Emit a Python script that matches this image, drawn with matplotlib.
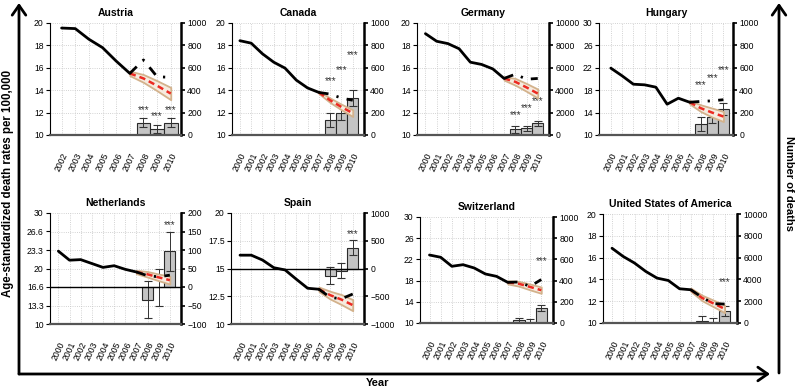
import numpy as np
import matplotlib
matplotlib.use('Agg')
import matplotlib.pyplot as plt
from matplotlib.patches import FancyArrowPatch

plt.rcParams['font.family'] = ['Liberation Sans', 'DejaVu Sans']

# ---------------- data ----------------
countries = ['Austria', 'Canada', 'Germany', 'Hungary',
             'Netherlands', 'Spain', 'Switzerland', 'United States of America']

years_austria = [2002, 2003, 2004, 2005, 2006, 2007, 2008, 2009, 2010]
years_other = [2000, 2001, 2002, 2003, 2004, 2005, 2006, 2007, 2008, 2009, 2010]
pred_years = [2007, 2008, 2009, 2010]
bar_years = [2008, 2009, 2010]

# observed age-standardized death rates
austria_rate = [19.55, 19.5, 18.55, 17.8, 16.6, 15.5, 16.7, 15.2, 15.15]
canada_rate = [18.42, 18.2, 17.25, 16.5, 15.97, 14.9, 14.2, 13.8, 13.65, 13.3, 13.1]
germany_rate = [19.05, 18.37, 18.16, 17.7, 16.5, 16.3, 15.9, 15.05, 15.43, 14.98, 15.05]
hungary_rate = [21.94, 20.57, 19.07, 18.96, 18.54, 15.5, 16.57, 15.85, 16.0, 16.1, 16.3]
netherlands_rate = [23.13, 21.5, 21.6, 20.9, 20.2, 20.5, 19.85, 19.37, 18.7, 18.5, 18.8]
spain_rate = [16.2, 16.2, 15.76, 15.07, 14.87, 14.03, 13.22, 13.13, 12.4, 12.27, 12.7]
switzerland_rate = [22.83, 22.4, 20.7, 21.0, 20.38, 19.25, 18.8, 17.67, 17.74, 16.9, 18.2]
usa_rate = [16.86, 16.1, 15.5, 14.73, 14.12, 13.9, 13.14, 13.05, 12.35, 11.77, 11.74]

# predicted rates (trend) 2007-2010 and half-width of the prediction band
austria_pred = [15.5, 15.05, 14.4, 13.7]
canada_pred = [13.8, 13.1, 12.5, 11.95]
germany_pred = [15.05, 14.75, 14.25, 13.7]
hungary_pred = [15.85, 14.78, 14.0, 13.3]
netherlands_pred = [19.37, 18.95, 18.4, 17.9]
spain_pred = [13.13, 12.6, 12.2, 11.7]
switzerland_pred = [17.67, 17.4, 16.8, 16.2]
usa_pred = [13.05, 12.3, 11.8, 11.3]

austria_band = [0.2, 0.35, 0.45, 0.55]
canada_band = [0.1, 0.2, 0.25, 0.3]
germany_band = [0.15, 0.3, 0.35, 0.4]
hungary_band = [0.3, 0.6, 0.8, 0.9]
netherlands_band = [0.3, 0.5, 0.6, 0.7]
spain_band = [0.2, 0.35, 0.45, 0.5]
switzerland_band = [0.3, 0.45, 0.55, 0.6]
usa_band = [0.15, 0.25, 0.3, 0.35]

# excess deaths 2008-2010 with error
austria_excess = [110, 55, 110]
canada_excess = [135, 195, 330]
germany_excess = [500, 590, 1040]
hungary_excess = [100, 165, 233]
netherlands_excess = [-35, 0, 97]
spain_excess = [-130, -42, 376]
switzerland_excess = [25, 8, 140]
usa_excess = [150, 100, 1130]

austria_err = [40, 35, 38]
canada_err = [60, 60, 70]
germany_err = [300, 250, 220]
hungary_err = [60, 60, 52]
netherlands_err = [50, 50, 53]
spain_err = [150, 135, 135]
switzerland_err = [22, 28, 27]
usa_err = [450, 350, 450]

# significance stars: (year, position on the deaths axis)
austria_stars = [(2008, 224), (2009, 173), (2010, 224)]
canada_stars = [(2008, 478), (2009, 576), (2010, 716)]
germany_stars = [(2008, 1780), (2009, 2370), (2010, 3060)]
hungary_stars = [(2008, 448), (2009, 507), (2010, 576)]
netherlands_stars = [(2010, 167)]
spain_stars = [(2010, 627)]
switzerland_stars = [(2010, 580)]
usa_stars = [(2010, 3800)]

# axis ticks
austria_lticks = [10, 12, 14, 16, 18, 20]
canada_lticks = [10, 12, 14, 16, 18, 20]
germany_lticks = [10, 12, 14, 16, 18, 20]
hungary_lticks = [10, 14, 18, 22, 26, 30]
netherlands_lticks = [10, 13.333, 16.667, 20, 23.333, 26.667, 30]
netherlands_llabels = ['10', '13.3', '16.6', '20', '23.3', '26.6', '30']
spain_lticks = [10, 12.5, 15, 17.5, 20]
spain_llabels = ['10', '12.5', '15', '17.5', '20']
switzerland_lticks = [10, 14, 18, 22, 26, 30]
usa_lticks = [10, 12, 14, 16, 18, 20]

austria_rticks = [0, 200, 400, 600, 800, 1000]
canada_rticks = [0, 200, 400, 600, 800, 1000]
germany_rticks = [0, 2000, 4000, 6000, 8000, 10000]
hungary_rticks = [0, 200, 400, 600, 800, 1000]
netherlands_rticks = [-100, -50, 0, 50, 100, 150, 200]
spain_rticks = [-1000, -500, 0, 500, 1000]
switzerland_rticks = [0, 200, 400, 600, 800, 1000]
usa_rticks = [0, 2000, 4000, 6000, 8000, 10000]

panels = [
    dict(name='Austria', years=years_austria, rate=austria_rate, pred=austria_pred, band=austria_band,
         excess=austria_excess, err=austria_err, stars=austria_stars,
         lticks=austria_lticks, llabels=None, rticks=austria_rticks,
         rect=(50, 23, 181, 135), xlim=(2001.15, 2010.75)),
    dict(name='Canada', years=years_other, rate=canada_rate, pred=canada_pred, band=canada_band,
         excess=canada_excess, err=canada_err, stars=canada_stars,
         lticks=canada_lticks, llabels=None, rticks=canada_rticks,
         rect=(232, 23, 364, 135), xlim=(1999.3, 2011.0)),
    dict(name='Germany', years=years_other, rate=germany_rate, pred=germany_pred, band=germany_band,
         excess=germany_excess, err=germany_err, stars=germany_stars,
         lticks=germany_lticks, llabels=None, rticks=germany_rticks,
         rect=(417, 23, 549, 135), xlim=(1999.25, 2011.0)),
    dict(name='Hungary', years=years_other, rate=hungary_rate, pred=hungary_pred, band=hungary_band,
         excess=hungary_excess, err=hungary_err, stars=hungary_stars,
         lticks=hungary_lticks, llabels=None, rticks=hungary_rticks,
         rect=(599, 23, 733, 135), xlim=(1998.95, 2010.85)),
    dict(name='Netherlands', years=years_other, rate=netherlands_rate, pred=netherlands_pred,
         band=netherlands_band, excess=netherlands_excess, err=netherlands_err, stars=netherlands_stars,
         lticks=netherlands_lticks, llabels=netherlands_llabels, rticks=netherlands_rticks,
         rect=(50, 213, 181, 324), xlim=(1999.25, 2011.0), zero=True),
    dict(name='Spain', years=years_other, rate=spain_rate, pred=spain_pred, band=spain_band,
         excess=spain_excess, err=spain_err, stars=spain_stars,
         lticks=spain_lticks, llabels=spain_llabels, rticks=spain_rticks,
         rect=(231, 213, 364, 324), xlim=(1999.2, 2011.0), zero=True),
    dict(name='Switzerland', years=years_other, rate=switzerland_rate, pred=switzerland_pred,
         band=switzerland_band, excess=switzerland_excess, err=switzerland_err, stars=switzerland_stars,
         lticks=switzerland_lticks, llabels=None, rticks=switzerland_rticks,
         rect=(420, 217, 553, 323), xlim=(1999.15, 2011.05)),
    dict(name='United States of America', years=years_other, rate=usa_rate, pred=usa_pred, band=usa_band,
         excess=usa_excess, err=usa_err, stars=usa_stars,
         lticks=usa_lticks, llabels=None, rticks=usa_rticks,
         rect=(603, 214, 737, 323), xlim=(1999.2, 2011.1)),
]

W, H = 795, 390
fig = plt.figure(figsize=(W / 100, H / 100), dpi=100)

FS = 6.2
for p in panels:
    x0, y0, x1, y1 = p['rect']
    rect = [x0 / W, 1 - y1 / H, (x1 - x0) / W, (y1 - y0) / H]
    ax = fig.add_axes(rect)
    tw = ax.twinx()
    ax.set_zorder(tw.get_zorder() + 1)
    ax.patch.set_visible(False)
    tw.patch.set_visible(True)
    tw.patch.set_facecolor('white')

    yrs = p['years']
    rate = p['rate']
    i7 = yrs.index(2007)

    ax.set_xlim(*p['xlim'])
    lt = p['lticks']
    ax.set_ylim(lt[0], lt[-1])
    ax.set_yticks(lt)
    if p['llabels'] is not None:
        ax.set_yticklabels(p['llabels'])
    rt = p['rticks']
    tw.set_ylim(rt[0], rt[-1])
    tw.set_yticks(rt)
    tw.set_yticklabels([str(v).replace('-', '\u2212') for v in rt])

    ax.set_xticks(yrs)
    ax.set_xticklabels([str(y) for y in yrs], rotation=65, ha='center')
    ax.tick_params(axis='x', length=0, pad=12, labelsize=FS)
    ax.tick_params(axis='y', length=3, width=0.8, pad=1.5, labelsize=FS)
    tw.tick_params(axis='y', length=3, width=1.2, pad=1.5, labelsize=FS)

    # grid on the lower (twin) axes so that it stays behind bars
    tw.xaxis.set_visible(True)
    tw.set_xticks(yrs)
    tw.tick_params(axis='x', length=0, labelbottom=False)
    tw.grid(True, ls=':', color='#c4c4c4', lw=0.6)
    tw.set_axisbelow(True)

    # bars
    tw.bar(bar_years, p['excess'], width=1.0, color='#c4c4c4', edgecolor='#2a2a2a', lw=0.8, zorder=2)
    tw.errorbar(bar_years, p['excess'], yerr=p['err'], fmt='none', ecolor='#333333',
                elinewidth=0.7, capsize=3, capthick=0.8, zorder=3)
    if p.get('zero'):
        tw.axhline(0, color='black', lw=1.0, zorder=4)
    for (yy, sv) in p['stars']:
        tw.text(yy, sv, '***', ha='center', va='center', fontsize=7, color='#333333', zorder=5)

    # prediction band and line
    pred = np.array(p['pred'])
    band = np.array(p['band'])
    ax.fill_between(pred_years, pred - band, pred + band, facecolor='#f6ebdf',
                    edgecolor='#d3b28c', lw=1.3, zorder=2)
    ax.plot(pred_years, pred, color='#ec2a22', lw=1.8, ls=(0, (2.5, 1.6)), zorder=3)

    # observed
    ax.plot(yrs[:i7 + 1], rate[:i7 + 1], color='black', lw=2.0, solid_capstyle='round', zorder=4)
    ax.plot(yrs[i7:], rate[i7:], color='black', lw=2.0, ls=(0, (3.5, 3, 0.8, 3)), zorder=4)

    for s in ['top', 'right']:
        ax.spines[s].set_visible(False)
    ax.spines['left'].set_linewidth(0.8)
    ax.spines['bottom'].set_linewidth(1.6)
    ax.spines['bottom'].set_color('#555555')
    for s in ['top', 'left', 'bottom']:
        tw.spines[s].set_visible(False)
    tw.spines['right'].set_linewidth(1.8)

    ax.set_title(p['name'], fontsize=7.5, fontweight='bold', pad=5)

# frame arrows
def fx(px):
    return px / W

def fy(py):
    return 1 - py / H

for a, b in [((19, 374), (19, 3)), ((19, 374), (770, 374)), ((779, 373), (779, 3))]:
    arr = FancyArrowPatch((fx(a[0]), fy(a[1])), (fx(b[0]), fy(b[1])), transform=fig.transFigure,
                          arrowstyle='->,head_length=0.5,head_width=0.35', mutation_scale=14,
                          lw=2.0, color='black', shrinkA=0, shrinkB=0)
    fig.add_artist(arr)

fig.text(fx(8), fy(183), 'Age-standardized death rates per 100,000', rotation=90,
         ha='center', va='center', fontsize=8.3, fontweight='bold')
fig.text(fx(789), fy(184), 'Number of deaths', rotation=270,
         ha='center', va='center', fontsize=8, fontweight='bold')
fig.text(fx(378), fy(383), 'Year', ha='center', va='center', fontsize=8, fontweight='bold')

fig.savefig('out.png', dpi=100)
